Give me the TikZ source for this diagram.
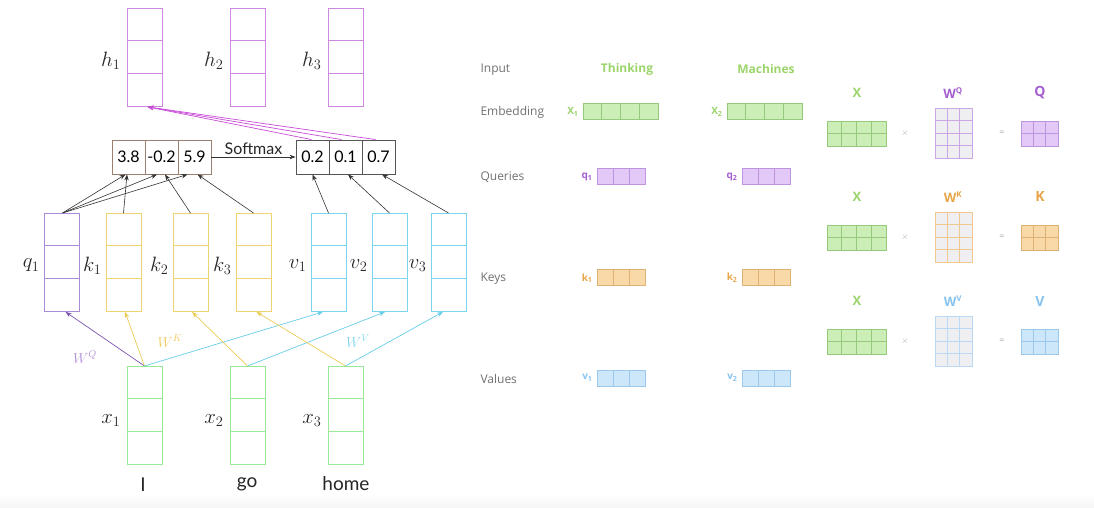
\documentclass[tikz,border=0pt]{standalone}
\usepackage{fontspec}
\usetikzlibrary{arrows.meta}
\newfontfamily\lato{Lato}
\newfontfamily\osans{Open Sans}
\definecolor{hcol}{HTML}{CF88DF}
\definecolor{qcol}{HTML}{A98BD6}
\definecolor{kcol}{HTML}{F0D470}
\definecolor{vcol}{HTML}{7AD6EE}
\definecolor{xcol}{HTML}{98E898}
\definecolor{scol}{HTML}{9B8070}
\definecolor{pcol}{HTML}{555555}
\definecolor{magarr}{HTML}{C84BD8}
\definecolor{qarr}{HTML}{7B55B0}
\definecolor{karr}{HTML}{EACB55}
\definecolor{varr}{HTML}{66CDE8}
\definecolor{wqcol}{HTML}{B090D6}
\definecolor{wkcol}{HTML}{EDCB60}
\definecolor{wvcol}{HTML}{80D6EE}
\definecolor{gfill}{HTML}{CBEDB6}
\definecolor{gline}{HTML}{97C97C}
\definecolor{pfill}{HTML}{E3C9F7}
\definecolor{pline}{HTML}{BC95DE}
\definecolor{ofill}{HTML}{FAD9A9}
\definecolor{oline}{HTML}{DDB274}
\definecolor{bfill}{HTML}{CDE7FA}
\definecolor{bline}{HTML}{9CC8EC}
\definecolor{wfill}{HTML}{EFEFF1}
\definecolor{wpline}{HTML}{C9A6E6}
\definecolor{woline}{HTML}{F0C890}
\definecolor{wbline}{HTML}{BBD9F4}
\definecolor{gtxt}{HTML}{9BD46A}
\definecolor{ptxt}{HTML}{A45ED0}
\definecolor{otxt}{HTML}{E8A548}
\definecolor{btxt}{HTML}{86C3F0}
\definecolor{graytxt}{HTML}{707070}
\definecolor{optxt}{HTML}{ABABAB}
\tikzset{
  vbox/.style={draw=#1, line width=0.9pt, minimum width=35pt, minimum height=98pt, inner sep=0pt, anchor=north},
  cellbox/.style={draw=#1, line width=0.9pt, minimum width=33pt, minimum height=34pt, inner sep=0pt, font=\lato\fontsize{16}{18}\selectfont},
  blk/.style={-{Stealth[length=6pt,width=4.5pt]}, line width=0.6pt, draw=black!80},
  carr/.style={-{Stealth[length=6pt,width=4.5pt]}, line width=0.7pt, draw=#1},
  mlab/.style={font=\fontsize{22}{24}\selectfont, text=black!85, inner sep=1pt},
  wlab/.style={font=\fontsize{14}{16}\selectfont, text=#1},
  word/.style={font=\lato\fontsize{19}{21}\selectfont, text=black!85},
  rowlab/.style={font=\osans\fontsize{12}{14}\selectfont, text=graytxt, anchor=west},
  toplab/.style={font=\osans\bfseries\fontsize{12}{14}\selectfont, text=#1},
  sublab/.style={font=\osans\bfseries\fontsize{10}{12}\selectfont, text=#1, anchor=east},
  matlab/.style={font=\osans\bfseries\fontsize{13}{15}\selectfont, text=#1},
  oplab/.style={font=\osans\fontsize{9}{10}\selectfont, text=optxt},
  gcell/.style={fill=#1fill, draw=#1line, line width=0.8pt},
  wcell/.style={fill=wfill, draw=#1, line width=0.9pt},
}
% vector column: name, center x, top y, colour
\newcommand{\vcolumn}[4]{%
  \node[vbox=#4] (#1) at (#2,#3) {};
  \draw[#4, line width=0.9pt] ([yshift=-32.7pt]#1.north west) -- ([yshift=-32.7pt]#1.north east);
  \draw[#4, line width=0.9pt] ([yshift=-65.3pt]#1.north west) -- ([yshift=-65.3pt]#1.north east);
}
% grid of cells: x, y (top left), cols, rows, cell w, cell h, style
\newcommand{\mgrid}[7]{%
  \foreach \c in {1,...,#3}{\foreach \r in {1,...,#4}{%
    \draw[#7] ({#1+(\c-1)*#5},{#2+(\r-1)*#6}) rectangle ++(#5,#6);}}%
}
\begin{document}
\begin{tikzpicture}[x=1pt,y=-1pt]
\useasboundingbox (0,0) rectangle (1094,508);
\shade[top color=white, bottom color=black!4] (0,494) rectangle (1094,508);

% ---------- left: self-attention ----------
\vcolumn{h1}{144.5}{8}{hcol}
\vcolumn{h2}{247.5}{8}{hcol}
\vcolumn{h3}{345.5}{8}{hcol}
\node[mlab, anchor=east] (lh1) at ([xshift=-5pt,yshift=-3pt]h1.west) {$h_1$};
\node[mlab, anchor=east] (lh2) at ([xshift=-5pt,yshift=-3pt]h2.west) {$h_2$};
\node[mlab, anchor=east] (lh3) at ([xshift=-5pt,yshift=-3pt]h3.west) {$h_3$};

\node[cellbox=scol] (s1) at (128.5,157) {3.8};
\node[cellbox=scol] (s2) at (161.5,157) {-0.2};
\node[cellbox=scol] (s3) at (194.5,157) {5.9};
\node[cellbox=pcol] (p1) at (312.5,157) {0.2};
\node[cellbox=pcol] (p2) at (345.5,157) {0.1};
\node[cellbox=pcol] (p3) at (378.5,157) {0.7};
\draw[blk] (s3.east) -- node[above, font=\lato\fontsize{16}{18}\selectfont, text=black!85, yshift=-1pt] (smx) {Softmax} (p1.west);

\vcolumn{q1}{61.5}{213}{qcol}
\vcolumn{k1}{123.5}{213}{kcol}
\vcolumn{k2}{190.5}{213}{kcol}
\vcolumn{k3}{253.5}{213}{kcol}
\vcolumn{v1}{328.5}{213}{vcol}
\vcolumn{v2}{389.5}{213}{vcol}
\vcolumn{v3}{448.5}{213}{vcol}
\node[mlab, anchor=east] (lq1) at ([xshift=-3pt,yshift=-3pt]q1.west) {$q_1$};
\node[mlab, anchor=east] (lk1) at ([xshift=-3pt,yshift=-3pt]k1.west) {$k_1$};
\node[mlab, anchor=east] (lk2) at ([xshift=-3pt,yshift=-3pt]k2.west) {$k_2$};
\node[mlab, anchor=east] (lk3) at ([xshift=-3pt,yshift=-3pt]k3.west) {$k_3$};
\node[mlab, anchor=east] (lv1) at ([xshift=-3pt,yshift=-3pt]v1.west) {$v_1$};
\node[mlab, anchor=east] (lv2) at ([xshift=-3pt,yshift=-3pt]v2.west) {$v_2$};
\node[mlab, anchor=east] (lv3) at ([xshift=-3pt,yshift=-3pt]v3.west) {$v_3$};

\vcolumn{x1}{144.5}{366}{xcol}
\vcolumn{x2}{247.5}{366}{xcol}
\vcolumn{x3}{345.5}{366}{xcol}
\node[mlab, anchor=east] (lx1) at ([xshift=-5pt,yshift=-5pt]x1.west) {$x_1$};
\node[mlab, anchor=east] (lx2) at ([xshift=-5pt,yshift=-5pt]x2.west) {$x_2$};
\node[mlab, anchor=east] (lx3) at ([xshift=-5pt,yshift=-5pt]x3.west) {$x_3$};
\node[word] (wI) at (143,485) {I};
\node[word] (wgo) at (247,484) {go};
\node[word] (whome) at (346,484) {home};

% score arrows
\draw[blk] ([xshift=1pt]q1.north) -- ([xshift=-3pt]s1.south);
\draw[blk] ([xshift=1pt]q1.north) -- ([xshift=-4.5pt]s2.south);
\draw[blk] ([xshift=1pt]q1.north) -- ([xshift=-7pt]s3.south);
\draw[blk] (k1.north) -- ([xshift=-1.5pt]s1.south);
\draw[blk] (k2.north) -- ([xshift=3.5pt]s2.south);
\draw[blk] (k3.north) -- ([xshift=3pt]s3.south);
\draw[blk] (v1.north) -- (p1.south);
\draw[blk] (v2.north) -- ([xshift=2.5pt]p2.south);
\draw[blk] (v3.north) -- ([xshift=3.5pt]p3.south);

% weighted sum arrows
\draw[carr=magarr] ([xshift=-1pt]p1.north) -- ([xshift=3pt]h1.south);
\draw[carr=magarr] ([xshift=-4pt]p2.north) -- ([xshift=3pt]h1.south);
\draw[carr=magarr] ([xshift=-3pt]p3.north) -- ([xshift=3pt]h1.south);

% projection arrows
\draw[carr=qarr] (x1.north) -- ([xshift=4pt]q1.south);
\draw[carr=karr] (x1.north) -- ([xshift=1.5pt]k1.south);
\draw[carr=varr] (x1.north) -- ([xshift=-5.5pt]v1.south);
\draw[carr=karr] (x2.north) -- ([xshift=1.5pt]k2.south);
\draw[carr=varr] (x2.north) -- ([xshift=-4.5pt]v2.south);
\draw[carr=karr] (x3.north) -- ([xshift=3pt]k3.south);
\draw[carr=varr] (x3.north) -- ([xshift=-5.5pt]v3.south);
\node[wlab=wqcol] (wq) at (85,357) {$W^Q$};
\node[wlab=wkcol] (wk) at (170,341) {$W^K$};
\node[wlab=wvcol] (wv) at (358,341) {$W^V$};

% ---------- middle: per-word vectors ----------
\node[rowlab] (rin) at (477,70) {Input};
\node[rowlab] (remb) at (477,112) {Embedding};
\node[rowlab] (rq) at (477,177) {Queries};
\node[rowlab] (rk) at (477,279) {Keys};
\node[rowlab] (rv) at (477,379) {Values};
\node[toplab=gtxt] (tthink) at (627,69) {Thinking};
\node[toplab=gtxt] (tmach) at (766,69) {Machines};

\node[sublab=gtxt] (lx1r) at (582,112) {X\textsubscript{1}};
\node[sublab=gtxt] (lx2r) at (726,112) {X\textsubscript{2}};
\mgrid{583}{103}{4}{1}{18.75}{16}{gcell=g}
\mgrid{727}{103}{4}{1}{18.75}{16}{gcell=g}

\node[sublab=ptxt] (lq1r) at (596,177) {q\textsubscript{1}};
\node[sublab=ptxt] (lq2r) at (741,177) {q\textsubscript{2}};
\mgrid{597}{168}{3}{1}{16}{16}{gcell=p}
\mgrid{742}{168}{3}{1}{16}{16}{gcell=p}

\node[sublab=otxt] (lk1r) at (596,278) {k\textsubscript{1}};
\node[sublab=otxt] (lk2r) at (741,278) {k\textsubscript{2}};
\mgrid{597}{269}{3}{1}{16}{16}{gcell=o}
\mgrid{742}{269}{3}{1}{16}{16}{gcell=o}

\node[sublab=btxt] (lv1r) at (596,378) {v\textsubscript{1}};
\node[sublab=btxt] (lv2r) at (741,378) {v\textsubscript{2}};
\mgrid{597}{370}{3}{1}{16}{16}{gcell=b}
\mgrid{742}{370}{3}{1}{16}{16}{gcell=b}

% ---------- right: matrix form ----------
\foreach \yy/\wc/\rc/\tc/\wl/\rl [count=\i] in {0/wpline/p/ptxt/Q/Q, 104/woline/o/otxt/K/K, 208/wbline/b/btxt/V/V}{
  \node[matlab=gtxt] at (857,{93+\yy}) {X};
  \node[matlab=\tc] at (953,{93+\yy}) {W\textsuperscript{\fontsize{8}{8}\selectfont\wl}};
  \node[matlab=\tc, font=\osans\bfseries\fontsize{14}{16}\selectfont] at (1040,{93+\yy}) {\rl};
  \mgrid{827}{121+\yy}{4}{2}{14.75}{12.5}{gcell=g}
  \node[oplab] at (905,{133+\yy}) {$\times$};
  \mgrid{935}{108+\yy}{3}{4}{12.33}{12.5}{wcell=\wc}
  \node[oplab] at (1002,{133+\yy}) {=};
  \mgrid{1021}{121+\yy}{3}{2}{12.33}{12.5}{gcell=\rc}
}
\end{tikzpicture}
\end{document}
